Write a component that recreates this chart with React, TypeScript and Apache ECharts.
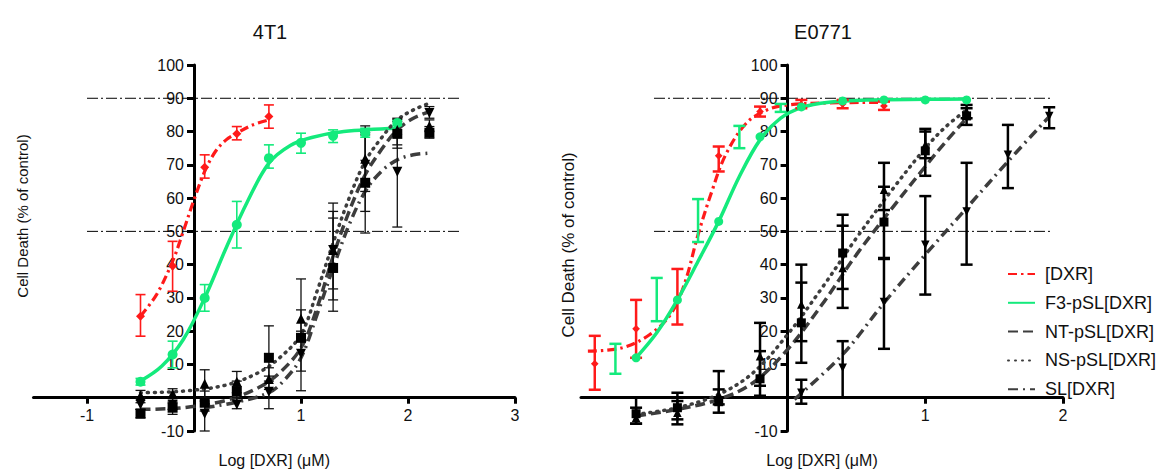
import React, { useEffect, useRef } from "react";
import * as echarts from "echarts";

// ---------- shared ----------
const LEGEND_NAMES = ["[DXR]", "F3-pSL[DXR]", "NT-pSL[DXR]", "NS-pSL[DXR]", "SL[DXR]"];
const Y_RANGE = [-10, 100];
const REF_LEVELS = [90, 50];
const TITLES = ["4T1", "E0771"];
const X_NAME = "Log [DXR] (\u03bcM)";
const Y_NAME = "Cell Death (% of control)";

// ---------- 4T1 ----------
const T1_X_RANGE = [-1.5, 3];
const T1_X_TICKS = [-1, 1, 2, 3];
const T1_REF_X = [-1, 2.5];
const T1_X = [-0.5, -0.2, 0.1, 0.4, 0.7, 1.0, 1.3, 1.6, 1.9, 2.2];

const T1_DXR_X = [-0.5, -0.2, 0.1, 0.4, 0.7];
const T1_DXR_Y = [24.5, 39.6, 69.3, 79.3, 84.5];
const T1_DXR_LO = [18.5, 32, 66, 77.5, 81];
const T1_DXR_HI = [31, 47, 73, 81.5, 88];
const T1_DXR_FIT_X = [-0.5, -0.35, -0.2, -0.1, 0, 0.1, 0.2, 0.3, 0.4, 0.55, 0.7];
const T1_DXR_FIT_Y = [24.5, 31, 41, 50, 59.5, 68, 74, 77.5, 79.5, 82, 83.5];

const T1_F3_X = [-0.5, -0.2, 0.1, 0.4, 0.7, 1.0, 1.3, 1.6, 1.9];
const T1_F3_Y = [4.8, 13, 30, 52, 72, 76.6, 78.7, 79.6, 82.6];
const T1_F3_LO = [3.8, 9, 26, 45, 69, 73.5, 76.7, 78.3, 81.8];
const T1_F3_HI = [5.8, 17, 34, 59, 76, 79.5, 80.5, 81, 83.4];
const T1_F3_FIT_X = [-0.5, -0.3, -0.1, 0.1, 0.3, 0.5, 0.7, 0.9, 1.1, 1.4, 1.9];
const T1_F3_FIT_Y = [5, 9.5, 17.5, 30, 45, 59, 70.5, 75.8, 78.2, 80, 81];

const T1_NT_Y = [-4.8, -3, -1.5, 2, 12, 18, 39, 64.6, 79.3, 79.6];
const T1_NT_LO = [-6, -5, -4, -1, 5, 8, 26, 49.5, 76, 78];
const T1_NT_HI = [-3.5, -1, 2, 5, 21.6, 26.4, 58.5, 79.7, 83, 81.5];
const T1_NS_Y = [0.6, 1.2, 4.2, 4.8, 5.6, 23.7, 44.4, 71.8, 80.5, 81.7];
const T1_NS_LO = [-1.5, -1.5, 0, 1.5, 2.5, 18, 32.7, 62, 75, 80];
const T1_NS_HI = [2.2, 2.7, 8.4, 7.9, 9, 35.7, 56, 81.7, 84, 83.5];
const T1_SL_Y = [-2, -2, -4.8, -2, 1.8, 13.2, 44.4, 70, 67.9, 85.6];
const T1_SL_LO = [-3.5, -3.5, -10, -3.3, -3.3, 2.1, 29.4, 56, 51.3, 84];
const T1_SL_HI = [0, 0, -1, 0, 6.5, 20, 54, 79, 83.7, 87.5];

const T1_BLK_FIT_X = [-0.5, -0.1, 0.3, 0.6, 0.8, 1.0, 1.15, 1.3, 1.45, 1.6, 1.75, 1.9, 2.05, 2.2];
const T1_NT_FIT_Y = [-3.5, -3, -0.8, 3, 7.5, 15, 27, 42.5, 56, 67, 74.5, 80.5, 84, 86];
const T1_NS_FIT_Y = [1.5, 2, 3.8, 7.5, 12, 19, 32, 46.5, 60, 71, 78, 83.5, 86.5, 88.5];
const T1_SL_FIT_X = [0.1, 0.4, 0.7, 0.85, 1.0, 1.15, 1.3, 1.45, 1.6, 1.75, 1.9, 2.05, 2.2];
const T1_SL_FIT_Y = [-3, -1.3, 1.5, 5.5, 12, 25, 39, 52, 62, 68, 71.5, 73, 73.5];

// ---------- E0771 ----------
const E_X_RANGE = [-1.5, 2];
const E_X_TICKS = [1, 2];
const E_REF_X = [-0.97, 1.92];
const E_X = [-1.1, -0.8, -0.5, -0.2, 0.1, 0.4, 0.7, 1.0, 1.3];

const E_DXR_X = [-1.4, -1.1, -0.8, -0.5, -0.2, 0.1, 0.4, 0.7];
const E_DXR_Y = [10.2, 20.7, 29, 72.7, 86, 88, 88.3, 87.7];
const E_DXR_LO = [2.4, 12, 22, 68, 84.5, 87, 87, 86.5];
const E_DXR_HI = [18.6, 29.4, 38.7, 75.5, 87.5, 89.5, 89.5, 89];
const E_DXR_FIT_X = [-1.45, -1.2, -1.0, -0.85, -0.75, -0.65, -0.55, -0.45, -0.3, -0.15, 0, 0.3, 0.7];
const E_DXR_FIT_Y = [14, 15, 19, 25, 34, 49, 62, 73, 82.5, 86.5, 88, 88.6, 88.8];

const E_F3_X = [-1.1, -0.8, -0.5, -0.2, 0.1, 0.4, 0.7, 1.0, 1.3];
const E_F3_Y = [12, 29.4, 53, 78.4, 87.4, 89.2, 89.5, 89.5, 89.5];
const E_F3_ERR_X = [-1.25, -0.95, -0.65, -0.35, -0.05];
const E_F3_LO = [7.2, 23, 46.8, 75, 85.9];
const E_F3_HI = [16.2, 36, 59.7, 81.7, 88.3];
const E_F3_FIT_X = [-1.1, -0.95, -0.8, -0.65, -0.5, -0.35, -0.2, -0.05, 0.1, 0.3, 0.6, 1.0, 1.3];
const E_F3_FIT_Y = [12, 19.5, 29.4, 41, 53, 66.5, 77.5, 84, 87.2, 88.8, 89.5, 89.7, 89.8];

const E_NT_Y = [-4.8, -3, -1.2, 5.7, 22.5, 43.5, 52.8, 74.2, 84.7];
const E_NT_LO = [-7.8, -8, -4.5, 0.6, 10.5, 27, 41.7, 66.7, 82];
const E_NT_HI = [0, 1.5, 2.5, 22.5, 40, 55, 63.4, 80.8, 87];
const E_NS_Y = [-6, -4.5, 1, 12.5, 28, 39, 62.5, 76, 86];
const E_NS_LO = [-7.8, -6.5, -2, 3.6, 17, 32.7, 56.4, 72, 84];
const E_NS_HI = [-3, -1, 8, 14, 34.6, 51.7, 70.6, 80, 88];
const E_SL_X = [0.1, 0.4, 0.7, 1.0, 1.3, 1.6, 1.9];
const E_SL_Y = [1.5, 9, 28.8, 46, 56, 73, 84.7];
const E_SL_LO = [-1.8, 0, 14.7, 31, 40, 63, 81];
const E_SL_HI = [5.4, 17, 42, 60.6, 70.6, 82, 87.3];

const E_BLK_FIT_X = [-1.1, -0.8, -0.5, -0.25, 0, 0.25, 0.5, 0.75, 1.0, 1.15, 1.3];
const E_NT_FIT_Y = [-5.5, -3.5, -0.5, 4.5, 14.5, 28, 43, 56.5, 69.5, 77, 84];
const E_NS_FIT_Y = [-5, -3, 1, 7.5, 19, 33, 48, 62, 75, 81.5, 86.5];
const E_SL_FIT_X = [0.05, 0.4, 0.7, 1.0, 1.3, 1.6, 1.9];
const E_SL_FIT_Y = [-0.5, 13, 28.5, 43, 57, 71, 84.5];

// ---------- helpers ----------
const zip = (xs: number[], ys: number[]) => xs.map((x, i) => [x, ys[i]]);
const zip3 = (xs: number[], lo: number[], hi: number[]) => xs.map((x, i) => [x, lo[i], hi[i]]);

const RED = "#ff1a1a";
const GREEN = "#14ea7c";
const DARK = "#3d3d3d";
const FONT = "'Liberation Sans', Arial, sans-serif";

const GRID_TOP = 65;
const GRID_H = 366;
const GRIDS = [
  { left: 33.5, width: 481.5 },
  { left: 581, width: 482 },
];
// height from the top of the plot down to the value 0 (where the x axis crosses)
const ZERO_H = (GRID_H * (Y_RANGE[1] - 0)) / (Y_RANGE[1] - Y_RANGE[0]);

const STYLES: Record<string, any> = {
  "[DXR]": { color: RED, line: { color: RED, width: 3.2, type: [9, 4, 2.5, 4] }, symbol: "diamond", size: 9 },
  "F3-pSL[DXR]": { color: GREEN, line: { color: GREEN, width: 3.5, type: "solid" }, symbol: "circle", size: 10 },
  "NT-pSL[DXR]": { color: "#000", line: { color: DARK, width: 3.5, type: [10, 5] }, symbol: "rect", size: 10 },
  "NS-pSL[DXR]": { color: "#000", line: { color: DARK, width: 3.5, type: [1, 6], cap: "round" }, symbol: "triangle", size: 10 },
  "SL[DXR]": { color: "#000", line: { color: DARK, width: 3.5, type: [10, 5, 2, 5] }, symbol: "triangle", size: 10, rotate: 180 },
};

function fitSeries(name: string, g: number, data: number[][]) {
  const s = STYLES[name];
  return {
    type: "line", name, xAxisIndex: g, yAxisIndex: g, data, symbol: "none",
    smooth: 0.35, lineStyle: { ...s.line }, itemStyle: { color: s.line.color },
    silent: true, z: 2,
  };
}
function pointSeries(name: string, g: number, data: number[][], scale: number) {
  const s = STYLES[name];
  return {
    type: "scatter", name, xAxisIndex: g, yAxisIndex: g, data, symbol: s.symbol,
    symbolSize: s.size * scale, symbolRotate: s.rotate || 0, itemStyle: { color: s.color, opacity: 1 },
    silent: true, z: 5,
  };
}
function errSeries(name: string, g: number, data: number[][], color: string, width: number, cap: number) {
  return {
    type: "custom", name, xAxisIndex: g, yAxisIndex: g, data, encode: { x: 0, y: [1, 2] },
    silent: true, z: 4,
    renderItem: (_p: any, api: any) => {
      const x = api.value(0), lo = api.value(1), hi = api.value(2);
      const a = api.coord([x, lo]);
      const b = api.coord([x, hi]);
      const style = { stroke: color, lineWidth: width, fill: null };
      return {
        type: "group",
        children: [
          { type: "line", shape: { x1: a[0], y1: a[1], x2: b[0], y2: b[1] }, style },
          { type: "line", shape: { x1: a[0] - cap, y1: a[1], x2: a[0] + cap, y2: a[1] }, style },
          { type: "line", shape: { x1: b[0] - cap, y1: b[1], x2: b[0] + cap, y2: b[1] }, style },
        ],
      };
    },
  };
}
function refSeries(g: number, xs: number[], level: number) {
  return {
    type: "line", xAxisIndex: g, yAxisIndex: g, data: [[xs[0], level], [xs[1], level]], symbol: "none",
    lineStyle: { color: "#000", width: 1, type: [11, 3, 2, 3] }, silent: true, z: 1,
  };
}

function zeroXOffset(g: number, range: number[]) {
  return -(GRIDS[g].width * (0 - range[0])) / (range[1] - range[0]);
}

// hidden x axis of a data grid
function dataXAxis(g: number, range: number[]) {
  return { type: "value", gridIndex: g, min: range[0], max: range[1], show: false };
}
// visible x axis, in a grid whose bottom edge is the value 0 of the data grid
function shownXAxis(g: number, range: number[], ticks: number[]) {
  return {
    type: "value", gridIndex: g, min: range[0], max: range[1], position: "bottom",
    axisLine: { onZero: false, lineStyle: { color: "#000", width: 3 } },
    axisTick: { customValues: ticks, length: 6, lineStyle: { color: "#000", width: 3 } },
    axisLabel: { customValues: ticks, fontSize: 16, color: "#111", margin: 10, fontFamily: FONT },
    splitLine: { show: false },
    name: X_NAME, nameLocation: "middle", nameGap: 55,
    nameTextStyle: { fontSize: 16, color: "#111", fontFamily: FONT },
  };
}
function shownYAxis(g: number, range: number[]) {
  return {
    type: "value", gridIndex: g, min: Y_RANGE[0], max: Y_RANGE[1], interval: 10, position: "left",
    offset: zeroXOffset(g, range),
    axisLine: { onZero: false, lineStyle: { color: "#000", width: 3 } },
    axisTick: { length: 7, lineStyle: { color: "#000", width: 3 } },
    axisLabel: { formatter: (v: number) => (v === 0 ? "" : String(v)), fontSize: 16, color: "#111", margin: 10, fontFamily: FONT },
    splitLine: { show: false },
  };
}
function hiddenYAxis(g: number) {
  return { type: "value", gridIndex: g, min: 0, max: 1, show: false };
}

export default function App() {
  const ref = useRef<HTMLDivElement>(null);
  useEffect(() => {
    if (!ref.current) return;
    const chart = echarts.init(ref.current, null, { renderer: "svg" });

    const series: any[] = [];
    REF_LEVELS.forEach((lv) => {
      series.push(refSeries(0, T1_REF_X, lv));
      series.push(refSeries(1, E_REF_X, lv));
    });
    // fits (first series with each legend name -> legend icon)
    series.push(fitSeries("[DXR]", 0, zip(T1_DXR_FIT_X, T1_DXR_FIT_Y)));
    series.push(fitSeries("F3-pSL[DXR]", 0, zip(T1_F3_FIT_X, T1_F3_FIT_Y)));
    series.push(fitSeries("NT-pSL[DXR]", 0, zip(T1_BLK_FIT_X, T1_NT_FIT_Y)));
    series.push(fitSeries("NS-pSL[DXR]", 0, zip(T1_BLK_FIT_X, T1_NS_FIT_Y)));
    series.push(fitSeries("SL[DXR]", 0, zip(T1_SL_FIT_X, T1_SL_FIT_Y)));
    series.push(fitSeries("[DXR]", 1, zip(E_DXR_FIT_X, E_DXR_FIT_Y)));
    series.push(fitSeries("F3-pSL[DXR]", 1, zip(E_F3_FIT_X, E_F3_FIT_Y)));
    series.push(fitSeries("NT-pSL[DXR]", 1, zip(E_BLK_FIT_X, E_NT_FIT_Y)));
    series.push(fitSeries("NS-pSL[DXR]", 1, zip(E_BLK_FIT_X, E_NS_FIT_Y)));
    series.push(fitSeries("SL[DXR]", 1, zip(E_SL_FIT_X, E_SL_FIT_Y)));

    // error bars
    series.push(errSeries("[DXR]", 0, zip3(T1_DXR_X, T1_DXR_LO, T1_DXR_HI), RED, 1.6, 5));
    series.push(errSeries("F3-pSL[DXR]", 0, zip3(T1_F3_X, T1_F3_LO, T1_F3_HI), GREEN, 1.6, 5));
    series.push(errSeries("NT-pSL[DXR]", 0, zip3(T1_X, T1_NT_LO, T1_NT_HI), "#111", 1.3, 5));
    series.push(errSeries("NS-pSL[DXR]", 0, zip3(T1_X, T1_NS_LO, T1_NS_HI), "#111", 1.3, 5));
    series.push(errSeries("SL[DXR]", 0, zip3(T1_X, T1_SL_LO, T1_SL_HI), "#111", 1.3, 5));
    series.push(errSeries("[DXR]", 1, zip3(E_DXR_X, E_DXR_LO, E_DXR_HI), RED, 2.5, 6));
    series.push(errSeries("F3-pSL[DXR]", 1, zip3(E_F3_ERR_X, E_F3_LO, E_F3_HI), GREEN, 2.5, 6));
    series.push(errSeries("NT-pSL[DXR]", 1, zip3(E_X, E_NT_LO, E_NT_HI), "#000", 2.5, 6));
    series.push(errSeries("NS-pSL[DXR]", 1, zip3(E_X, E_NS_LO, E_NS_HI), "#000", 2.5, 6));
    series.push(errSeries("SL[DXR]", 1, zip3(E_SL_X, E_SL_LO, E_SL_HI), "#000", 2.5, 6));

    // points
    series.push(pointSeries("[DXR]", 0, zip(T1_DXR_X, T1_DXR_Y), 1));
    series.push(pointSeries("F3-pSL[DXR]", 0, zip(T1_F3_X, T1_F3_Y), 1));
    series.push(pointSeries("NT-pSL[DXR]", 0, zip(T1_X, T1_NT_Y), 1));
    series.push(pointSeries("NS-pSL[DXR]", 0, zip(T1_X, T1_NS_Y), 1));
    series.push(pointSeries("SL[DXR]", 0, zip(T1_X, T1_SL_Y), 1));
    series.push(pointSeries("[DXR]", 1, zip(E_DXR_X, E_DXR_Y), 0.85));
    series.push(pointSeries("F3-pSL[DXR]", 1, zip(E_F3_X, E_F3_Y), 0.9));
    series.push(pointSeries("NT-pSL[DXR]", 1, zip(E_X, E_NT_Y), 0.9));
    series.push(pointSeries("NS-pSL[DXR]", 1, zip(E_X, E_NS_Y), 0.85));
    series.push(pointSeries("SL[DXR]", 1, zip(E_SL_X, E_SL_Y), 0.85));

    const titleStyle = { fontSize: 20, fontWeight: "normal", color: "#111", fontFamily: FONT };
    chart.setOption({
      animation: false,
      backgroundColor: "#fff",
      textStyle: { fontFamily: FONT },
      title: [
        { text: TITLES[0], left: 265, top: 17, textAlign: "center", textStyle: titleStyle },
        { text: TITLES[1], left: 818, top: 17, textAlign: "center", textStyle: titleStyle },
      ],
      legend: {
        data: LEGEND_NAMES, orient: "vertical", left: 1007, top: 265, padding: 0,
        itemWidth: 27, itemHeight: 14, itemGap: 10.8, selectedMode: false,
        itemStyle: { opacity: 0 },
        textStyle: { fontSize: 18, color: "#111", fontFamily: FONT, padding: [0, 0, 0, 5] },
      },
      grid: [
        ...GRIDS.map((g) => ({ left: g.left, top: GRID_TOP, width: g.width, height: GRID_H, outerBoundsMode: "none", containLabel: false })),
        ...GRIDS.map((g) => ({ left: g.left, top: GRID_TOP, width: g.width, height: ZERO_H, outerBoundsMode: "none", containLabel: false })),
      ],
      xAxis: [
        dataXAxis(0, T1_X_RANGE),
        dataXAxis(1, E_X_RANGE),
        shownXAxis(2, T1_X_RANGE, T1_X_TICKS),
        shownXAxis(3, E_X_RANGE, E_X_TICKS),
      ],
      yAxis: [shownYAxis(0, T1_X_RANGE), shownYAxis(1, E_X_RANGE), hiddenYAxis(2), hiddenYAxis(3)],
      graphic: [
        {
          type: "text", x: 22, y: 216, rotation: Math.PI / 2, silent: true,
          style: { text: Y_NAME, fontSize: 15, fontFamily: FONT, fill: "#111", align: "center", verticalAlign: "middle" },
        },
        {
          type: "text", x: 568, y: 245, rotation: Math.PI / 2, silent: true,
          style: { text: Y_NAME, fontSize: 17, fontFamily: FONT, fill: "#111", align: "center", verticalAlign: "middle" },
        },
      ],
      series,
    });
    return () => chart.dispose();
  }, []);
  return <div ref={ref} style={{ position: "fixed", left: 0, top: 0, width: 1159, height: 470, background: "#fff" }} />;
}
